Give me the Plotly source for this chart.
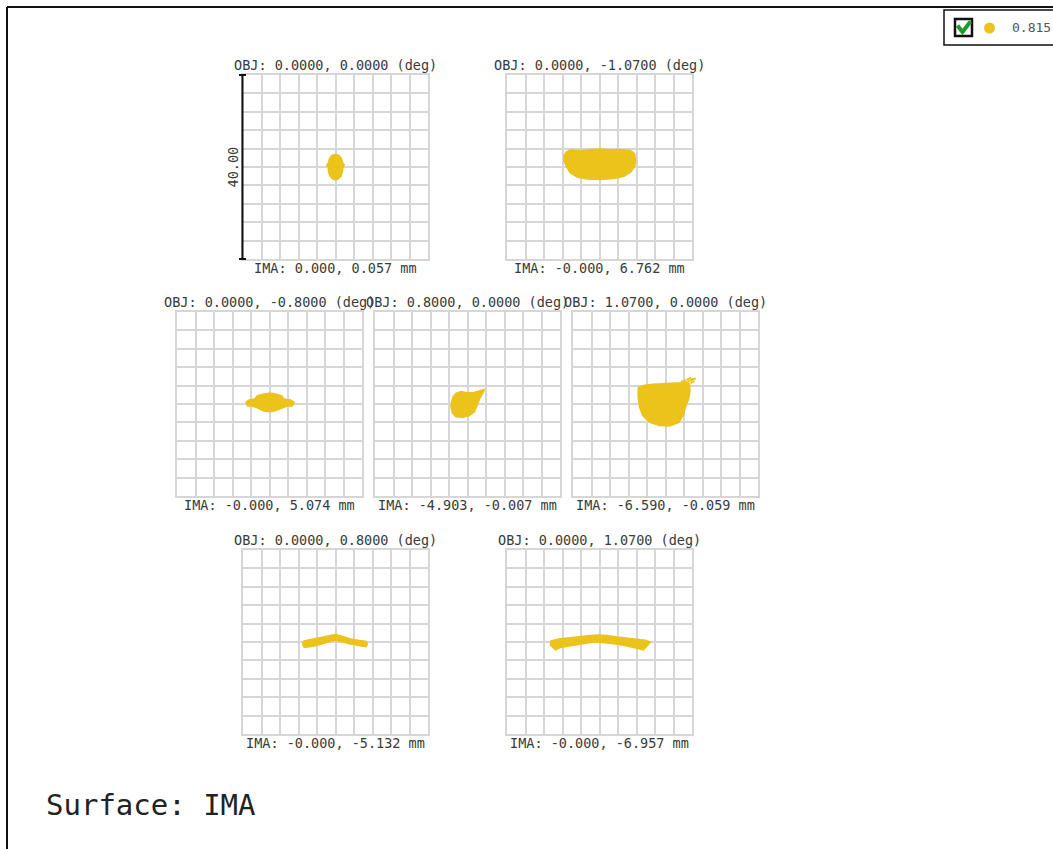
import plotly.graph_objects as go

W, H = 1053, 849

# Object field angles (deg) for each spot panel
obj_x = [0.0, 0.0, 0.0, 0.8, 1.07, 0.0, 0.0]
obj_y = [0.0, -1.07, -0.8, 0.0, 0.0, 0.8, 1.07]

# Chief ray image-plane coordinates (mm)
ima_x = [0.0, -0.0, -0.0, -4.903, -6.590, -0.0, -0.0]
ima_y = [0.057, 6.762, 5.074, -0.007, -0.059, -5.132, -6.957]

wavelength = "0.815"
scale_um = 40.0

# Spot footprints (µm, relative to the reference point of each field)
spot1_x = [0.0, 0.8, 1.3, 1.5, 1.9, 1.6, 1.5, 1.2, 0.6, 0.0, -0.6, -1.2, -1.5, -1.6, -1.9, -1.5, -1.3, -0.8]
spot1_y = [2.7, 2.5, 1.8, 1.0, 0.4, 0.0, -1.0, -2.0, -2.6, -2.8, -2.6, -2.0, -1.0, 0.0, 0.4, 1.0, 1.8, 2.5]

spot2_x = [-7.3, -6.3, -4.1, -1.9, 0.2, 2.4, 4.5, 6.7, 7.6, 7.8, 7.6, 6.7, 5.3, 3.1, 0.2, -2.7, -4.8, -6.3, -7.1, -7.7, -7.6]
spot2_y = [3.2, 3.7, 3.6, 3.8, 3.9, 3.7, 3.8, 3.6, 2.9, 1.4, 0.0, -1.1, -2.0, -2.5, -2.7, -2.6, -2.2, -1.3, 0.0, 1.4, 2.5]

spot3_x = [-5.1, -4.4, -3.2, -2.6, -1.4, 0.1, 1.5, 2.6, 3.1, 4.5, 5.3, 5.0, 3.7, 2.6, 1.2, 0.1, -1.2, -2.5, -3.5, -4.8]
spot3_y = [0.4, 0.9, 1.1, 1.8, 2.1, 2.4, 2.1, 1.8, 1.1, 0.9, 0.4, -0.4, -0.5, -0.9, -1.5, -1.7, -1.5, -0.9, -0.5, -0.4]

spot4_x = [-3.2, -2.5, -1.4, 0.1, 1.5, 2.6, 3.7, 3.3, 2.6, 2.0, 1.5, 0.4, -1.0, -2.5, -3.3, -3.6]
spot4_y = [1.4, 2.3, 2.7, 2.4, 2.5, 2.9, 3.2, 2.4, 1.1, -0.4, -1.7, -2.5, -2.9, -2.8, -1.9, -0.4]

spot5_x = [-5.9, -4.5, -2.7, -0.5, 1.6, 3.4, 4.6, 5.2, 5.3, 5.0, 4.3, 3.8, 2.9, 0.9, -1.3, -3.4, -4.9, -5.6, -5.9]
spot5_y = [3.6, 4.1, 4.3, 4.4, 4.4, 4.6, 4.8, 4.3, 2.9, 1.1, -0.7, -2.5, -4.0, -4.8, -4.7, -4.0, -2.5, -0.7, 1.4]

# Sparse outlying rays at the upper-right edge of the 1.07 deg spot
spray5_x = [4.2, 3.6, 5.0, 5.5, 5.9, 6.3, 5.6, 6.0, 5.3, 4.8]
spray5_y = [5.1, 4.9, 5.0, 5.2, 5.4, 5.5, 4.7, 4.9, 5.6, 5.3]

spot6_x = [-6.9, -4.9, -2.8, -1.3, 0.0, 1.2, 3.0, 4.8, 6.6, 6.9, 6.6, 4.8, 3.0, 1.2, 0.0, -1.3, -2.8, -4.9, -6.7, -7.1]
spot6_y = [0.2, 0.6, 0.9, 1.3, 1.6, 1.3, 0.7, 0.4, 0.1, -0.5, -1.0, -0.7, -0.4, 0.1, 0.4, 0.1, -0.4, -0.9, -1.2, -0.5]

spot7_x = [-10.6, -8.5, -6.3, -4.1, -2.0, -0.2, 1.6, 3.8, 5.9, 8.1, 9.9, 11.0, 10.3, 9.5, 7.4, 5.2, 3.1, 0.9, -0.5, -2.0, -4.1, -6.3, -8.5, -9.5, -10.6]
spot7_y = [0.2, 0.7, 0.9, 1.2, 1.4, 1.5, 1.4, 1.1, 0.9, 0.7, 0.4, 0.0, -0.7, -1.7, -1.2, -0.7, -0.4, -0.1, 0.0, -0.1, -0.4, -0.8, -1.2, -1.7, -0.7]

spots_x = [spot1_x, spot2_x, spot3_x, spot4_x, spot5_x, spot6_x, spot7_x]
spots_y = [spot1_y, spot2_y, spot3_y, spot4_y, spot5_y, spot6_y, spot7_y]

# Panel placement on the page (left, top) in pixels
PANEL_W, PANEL_H = 185, 184
panel_pos = [(243, 75), (507, 75), (177, 312), (375, 312), (573, 312), (243, 550), (507, 550)]

SPOT_COLOR = "#EBC31B"
GRID_COLOR = "#d6d6d6"
TEXT_COLOR = "#3a3a3a"
MONO = "DejaVu Sans Mono"


def px(x):
    return x / W


def py(y):
    return 1 - y / H


fig = go.Figure()
annotations = []
shapes = []
half = scale_um / 2

for i, (left, top) in enumerate(panel_pos):
    n = "" if i == 0 else str(i + 1)
    xa, ya = "x" + n, "y" + n
    fig.add_trace(go.Scatter(
        x=spots_x[i] + [spots_x[i][0]], y=spots_y[i] + [spots_y[i][0]],
        mode="lines", fill="toself", fillcolor=SPOT_COLOR,
        line=dict(color=SPOT_COLOR, width=1.5),
        xaxis=xa, yaxis=ya, showlegend=False, hoverinfo="skip",
    ))
    if i == 4:
        fig.add_trace(go.Scatter(
            x=spray5_x, y=spray5_y, mode="markers",
            marker=dict(color=SPOT_COLOR, size=2.5),
            xaxis=xa, yaxis=ya, showlegend=False, hoverinfo="skip",
        ))
    axis_common = dict(
        range=[-half, half], dtick=scale_um / 10, tick0=-half,
        showgrid=True, gridcolor=GRID_COLOR, gridwidth=2,
        showline=True, linecolor=GRID_COLOR, linewidth=2, mirror=True,
        zeroline=False, showticklabels=False, ticks="", fixedrange=True,
    )
    fig.layout["xaxis" + n] = dict(axis_common, domain=[px(left), px(left + PANEL_W)], anchor=ya)
    fig.layout["yaxis" + n] = dict(axis_common, domain=[py(top + PANEL_H), py(top)], anchor=xa)

    cx = left + PANEL_W / 2
    annotations.append(dict(
        x=px(cx), y=py(top - 10), xref="paper", yref="paper",
        text=f"OBJ: {obj_x[i]:.4f}, {obj_y[i]:.4f} (deg)", showarrow=False,
        xanchor="center", yanchor="middle",
        font=dict(family=MONO, size=13.5, color=TEXT_COLOR),
    ))
    annotations.append(dict(
        x=px(cx), y=py(top + PANEL_H + 8.5), xref="paper", yref="paper",
        text=f"IMA: {ima_x[i]:.3f}, {ima_y[i]:.3f} mm", showarrow=False,
        xanchor="center", yanchor="middle",
        font=dict(family=MONO, size=13.5, color=TEXT_COLOR),
    ))

# Scale bar beside the first panel
bx, btop, bbot = 242.5, 75, 75 + PANEL_H
shapes.append(dict(type="line", xref="paper", yref="paper", x0=px(bx), x1=px(bx),
                   y0=py(btop), y1=py(bbot), line=dict(color="#111", width=2)))
for yy in (btop, bbot):
    shapes.append(dict(type="line", xref="paper", yref="paper", x0=px(bx - 3.5), x1=px(bx + 3.5),
                       y0=py(yy), y1=py(yy), line=dict(color="#111", width=2)))
annotations.append(dict(
    x=px(232.5), y=py(167), xref="paper", yref="paper", text=f"{scale_um:.2f}",
    showarrow=False, textangle=-90, xanchor="center", yanchor="middle",
    font=dict(family=MONO, size=13.5, color=TEXT_COLOR),
))

# Page frame (top and left edges)
shapes.append(dict(type="line", xref="paper", yref="paper", x0=px(7), x1=1.01, y0=py(7), y1=py(7),
                   line=dict(color="#111", width=2)))
shapes.append(dict(type="line", xref="paper", yref="paper", x0=px(7), x1=px(7), y0=py(7), y1=-0.01,
                   line=dict(color="#111", width=2)))

# Wavelength legend box
shapes.append(dict(type="rect", xref="paper", yref="paper", x0=px(944), x1=1.01, y0=py(45), y1=py(10),
                   line=dict(color="#111", width=1.5), fillcolor="white"))
shapes.append(dict(type="rect", xref="paper", yref="paper", x0=px(955), x1=px(972), y0=py(36), y1=py(19),
                   line=dict(color="#111", width=2.5), fillcolor="white"))
shapes.append(dict(type="path", xref="paper", yref="paper",
                   path=f"M {px(957.5)},{py(25.5)} L {px(962.5)},{py(32)} L {px(970.5)},{py(21.5)}",
                   line=dict(color="#1f9a2c", width=4)))
shapes.append(dict(type="circle", xref="paper", yref="paper", x0=px(984), x1=px(995), y0=py(33.5), y1=py(22.5),
                   line=dict(color=SPOT_COLOR, width=0), fillcolor=SPOT_COLOR))
annotations.append(dict(
    x=px(1010), y=py(27), xref="paper", yref="paper", text=wavelength,
    showarrow=False, xanchor="left", yanchor="middle",
    font=dict(family=MONO, size=13, color="#555"),
))

# Surface caption
annotations.append(dict(
    x=px(44), y=py(805), xref="paper", yref="paper", text="Surface: IMA",
    showarrow=False, xanchor="left", yanchor="middle",
    font=dict(family=MONO, size=29, color="#222"),
))

fig.update_layout(
    width=W, height=H, margin=dict(l=0, r=0, t=0, b=0),
    paper_bgcolor="white", plot_bgcolor="white",
    annotations=annotations, shapes=shapes, showlegend=False,
)

fig.write_html("out.html", config={"displayModeBar": False})
